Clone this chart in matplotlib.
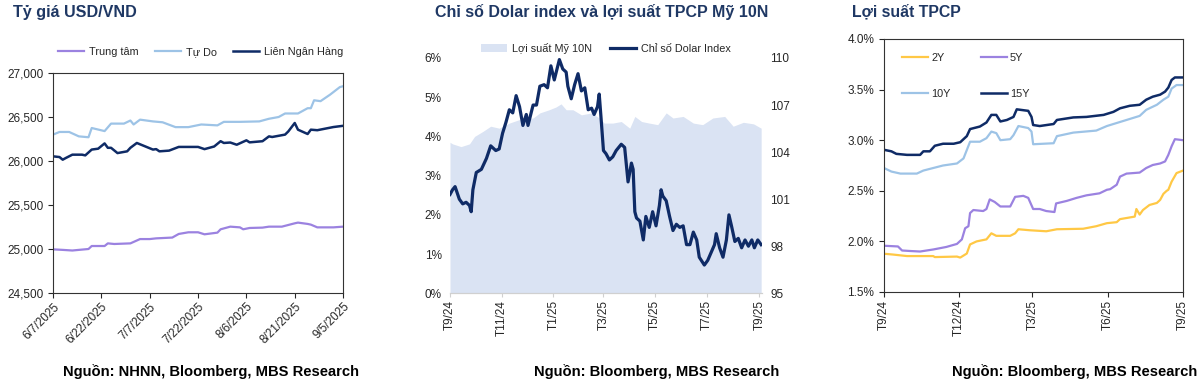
import matplotlib
matplotlib.use("Agg")
import matplotlib.pyplot as plt
from matplotlib.ticker import FuncFormatter
from matplotlib.patches import Patch
from matplotlib.lines import Line2D
import pandas as pd

plt.rcParams['font.family'] = ['Liberation Sans', 'DejaVu Sans']

# ---------------- Panel 1: USD/VND ----------------
p1_start = "2025-06-07"
p1_ticks = ["2025-06-07", "2025-06-22", "2025-07-07", "2025-07-22", "2025-08-06", "2025-08-21", "2025-09-05"]
tudo_days = [0, 2, 5, 8, 11, 12, 16, 18, 22, 24, 25, 27, 31, 34, 38, 42, 46, 51, 53, 58, 64, 67, 70, 72, 76, 79, 80, 81, 83, 86, 89, 90]
tudo_vals = [26300, 26330, 26330, 26280, 26270, 26375, 26340, 26425, 26425, 26460, 26415, 26470, 26450, 26440, 26385,
             26385, 26415, 26405, 26445, 26445, 26450, 26480, 26500, 26540, 26540, 26600, 26600, 26690, 26680, 26755,
             26840, 26850]
lnh_days = [0, 2, 3, 4, 6, 9, 10, 12, 14, 16, 17, 18, 20, 23, 24, 26, 28, 31, 32, 33, 36, 39, 45, 47, 50, 52, 53, 55,
            57, 60, 61, 65, 67, 68, 72, 73, 75, 76, 79, 80, 82, 87, 90]
lnh_vals = [26053, 26045, 26015, 26035, 26072, 26072, 26064, 26130, 26140, 26200, 26150, 26150, 26090, 26110, 26150,
            26205, 26175, 26130, 26135, 26110, 26118, 26160, 26160, 26135, 26165, 26225, 26205, 26210, 26185, 26235,
            26212, 26225, 26280, 26273, 26300, 26336, 26432, 26356, 26307, 26356, 26350, 26386, 26400]
tt_days = [0, 3, 6, 8, 11, 12, 16, 17, 19, 24, 27, 30, 32, 37, 39, 42, 45, 47, 51, 52, 55, 58, 59, 61, 65, 67, 71,
           75, 76, 79, 80, 82, 87, 90]
tt_vals = [24996, 24990, 24983, 24990, 25000, 25034, 25034, 25064, 25057, 25064, 25113, 25113, 25121, 25130, 25171,
           25190, 25190, 25167, 25186, 25224, 25254, 25246, 25224, 25239, 25243, 25254, 25254, 25292, 25300, 25285,
           25277, 25246, 25246, 25254]
p1_yticks = [24500, 25000, 25500, 26000, 26500, 27000]

# ---------------- Panel 2: DXY & US 10Y ----------------
p2_start = "2024-09-01"
p2_ticks = ["2024-09-01", "2024-11-01", "2025-01-01", "2025-03-01", "2025-05-01", "2025-07-01", "2025-09-01"]
p2_ticklabels = ["T9/24", "T11/24", "T1/25", "T3/25", "T5/25", "T7/25", "T9/25"]
us10_days = [0, 3, 13, 23, 29, 39, 48, 58, 70, 82, 98, 106, 117, 125, 131, 137, 145, 155, 167, 176, 182, 192, 202,
             212, 218, 226, 235, 245, 255, 263, 275, 287, 298, 310, 324, 334, 346, 358, 367]
us10_vals = [3.85, 3.81, 3.74, 3.81, 4.0, 4.13, 4.26, 4.21, 4.34, 4.43, 4.47, 4.6, 4.68, 4.75, 4.83, 4.68, 4.68, 4.55,
             4.6, 4.47, 4.34, 4.34, 4.38, 4.21, 4.51, 4.38, 4.34, 4.3, 4.6, 4.47, 4.51, 4.34, 4.3, 4.47, 4.51, 4.26,
             4.36, 4.32, 4.21]
dxy_days = [0, 3, 6, 11, 15, 19, 23, 25, 27, 31, 37, 43, 48, 54, 58, 62, 66, 70, 74, 78, 82, 86, 90, 92, 98, 102,
            106, 111, 115, 119, 123, 129, 133, 137, 139, 143, 147, 151, 155, 159, 163, 167, 170, 174, 176, 178, 181,
            184, 188, 192, 196, 202, 206, 210, 214, 216, 218, 220, 224, 228, 231, 235, 239, 243, 247, 249, 251, 255,
            259, 263, 267, 271, 275, 279, 283, 287, 291, 294, 300, 304, 308, 312, 314, 318, 322, 326, 329, 332, 336,
            340, 344, 348, 352, 356, 359, 363, 367]
dxy_vals = [101.3, 101.6, 101.8, 101.0, 100.7, 100.8, 100.6, 100.2, 101.6, 102.7, 102.9, 103.6, 104.4, 104.1, 104.2,
            105.2, 105.9, 106.7, 106.5, 107.6, 106.9, 105.7, 106.4, 105.7, 107.0, 107.0, 108.2, 108.3, 108.1, 109.5,
            108.6, 109.9, 109.3, 109.1, 108.2, 107.4, 108.3, 109.0, 107.9, 108.1, 106.7, 106.8, 106.4, 106.9, 107.7,
            106.3, 104.1, 103.9, 103.5, 103.7, 104.1, 104.5, 104.3, 102.1, 103.3, 102.9, 100.2, 99.8, 99.6, 98.4,
            99.9, 99.2, 100.2, 99.3, 100.6, 101.6, 101.2, 100.9, 99.9, 99.0, 99.4, 99.2, 99.3, 98.1, 98.1, 98.9, 98.4,
            97.3, 96.8, 97.1, 97.6, 98.1, 98.8, 97.9, 97.3, 98.4, 100.0, 99.3, 98.3, 98.5, 97.9, 98.4, 98.0, 98.4,
            97.9, 98.4, 98.1]
p2_left_ticks = [0, 1, 2, 3, 4, 5, 6]
p2_right_ticks = [95, 98, 101, 104, 107, 110]

# ---------------- Panel 3: VN gov bond yields ----------------
p3_start = "2024-09-01"
p3_ticks = ["2024-09-01", "2024-12-01", "2025-03-01", "2025-06-01", "2025-09-01"]
p3_ticklabels = ["T9/24", "T12/24", "T3/25", "T6/25", "T9/25"]
y15_days = [0, 9, 15, 28, 44, 48, 56, 62, 72, 85, 93, 101, 105, 117, 125, 131, 137, 142, 150, 158, 162, 176, 180, 182,
            190, 207, 211, 231, 247, 268, 280, 288, 300, 312, 320, 328, 337, 343, 347, 351, 355, 365]
y15_vals = [2.905, 2.89, 2.865, 2.855, 2.855, 2.89, 2.89, 2.945, 2.965, 2.965, 2.98, 3.04, 3.11, 3.135, 3.175, 3.25,
            3.25, 3.185, 3.2, 3.23, 3.305, 3.29, 3.23, 3.15, 3.14, 3.16, 3.2, 3.225, 3.23, 3.25, 3.28, 3.315, 3.34,
            3.35, 3.4, 3.43, 3.45, 3.48, 3.52, 3.595, 3.62, 3.62]
y10_days = [0, 9, 20, 40, 48, 60, 72, 89, 97, 105, 117, 125, 131, 137, 142, 154, 158, 164, 176, 180, 182, 207, 211,
            231, 259, 272, 288, 312, 320, 333, 341, 347, 351, 357, 365]
y10_vals = [2.725, 2.69, 2.67, 2.67, 2.7, 2.725, 2.75, 2.77, 2.82, 2.985, 2.985, 3.02, 3.085, 3.07, 3.0, 3.01, 3.05,
            3.14, 3.12, 3.085, 2.96, 2.97, 3.04, 3.075, 3.095, 3.14, 3.18, 3.24, 3.3, 3.35, 3.4, 3.43, 3.51, 3.545,
            3.545]
y5_days = [0, 17, 22, 32, 44, 60, 76, 89, 95, 99, 103, 105, 109, 121, 125, 129, 135, 142, 154, 160, 170, 176, 182,
           190, 198, 208, 210, 223, 235, 247, 263, 272, 276, 284, 288, 296, 312, 320, 328, 337, 343, 347, 351, 355, 365]
y5_vals = [1.957, 1.95, 1.91, 1.905, 1.9, 1.92, 1.945, 1.975, 2.02, 2.13, 2.15, 2.28, 2.31, 2.3, 2.32, 2.415, 2.39,
           2.345, 2.345, 2.44, 2.45, 2.43, 2.32, 2.32, 2.3, 2.29, 2.375, 2.4, 2.43, 2.455, 2.475, 2.51, 2.516, 2.56,
           2.64, 2.67, 2.68, 2.725, 2.755, 2.77, 2.79, 2.855, 2.94, 3.01, 3.0]
y2_days = [0, 11, 28, 60, 62, 89, 93, 101, 105, 113, 125, 131, 137, 154, 160, 164, 178, 198, 211, 243, 259, 272, 284,
           288, 306, 308, 312, 316, 324, 333, 337, 341, 345, 347, 351, 357, 365]
y2_vals = [1.878, 1.87, 1.855, 1.855, 1.845, 1.85, 1.84, 1.88, 1.97, 2.0, 2.02, 2.08, 2.055, 2.055, 2.08, 2.12, 2.11,
           2.1, 2.12, 2.125, 2.15, 2.18, 2.19, 2.22, 2.245, 2.32, 2.265, 2.31, 2.36, 2.38, 2.41, 2.47, 2.5, 2.51, 2.59,
           2.675, 2.7]
p3_yticks = [1.5, 2.0, 2.5, 3.0, 3.5, 4.0]

# ---------------- Styling ----------------
NAVY = "#0f2b66"
LIGHT = "#9dc3e6"
PURPLE = "#9b82e0"
YELLOW = "#ffc845"
FILL = "#dae3f3"
TITLE = "#1f3864"
TXT = "#262626"
LEG_FS = 7.8
TICK_FS = 8.5


def to_dates(start, days):
    return pd.Timestamp(start) + pd.to_timedelta(days, unit="D")


fig = plt.figure(figsize=(12, 3.9), dpi=100)
fig.patch.set_facecolor("white")

# ===== Panel 1 =====
ax1 = fig.add_axes([0.0442, 0.2487, 0.2417, 0.5641])
ax1.plot(to_dates(p1_start, tt_days), tt_vals, color=PURPLE, lw=1.6, label="Trung tâm")
ax1.plot(to_dates(p1_start, tudo_days), tudo_vals, color=LIGHT, lw=1.6, label="Tự Do")
ax1.plot(to_dates(p1_start, lnh_days), lnh_vals, color=NAVY, lw=1.8, label="Liên Ngân Hàng")
ax1.set_xlim(pd.Timestamp(p1_ticks[0]), pd.Timestamp(p1_ticks[-1]))
ax1.set_ylim(p1_yticks[0], p1_yticks[-1])
ax1.set_yticks(p1_yticks)
ax1.yaxis.set_major_formatter(FuncFormatter(lambda v, p: f"{int(v):,}"))
ax1.set_xticks([pd.Timestamp(t) for t in p1_ticks])
ax1.set_xticklabels([f"{pd.Timestamp(t).month}/{pd.Timestamp(t).day}/{pd.Timestamp(t).year}" for t in p1_ticks],
                    rotation=45, ha="right", rotation_mode="anchor")
for s in ax1.spines.values():
    s.set_color("#333333")
    s.set_linewidth(0.8)
ax1.tick_params(axis="both", labelsize=TICK_FS, colors=TXT, length=3.5, width=0.8, direction="out")
ax1.tick_params(axis="x", pad=2)
ax1.legend(loc="center", bbox_to_anchor=(0.51, 1 + 21 / 220), ncol=3, frameon=False, fontsize=LEG_FS,
           handlelength=2.4, columnspacing=1.5, handletextpad=0.45, labelcolor=TXT, borderaxespad=0)
fig.text(13 / 1200, 1 - 12 / 390, "Tỷ giá USD/VND", fontsize=11.6, fontweight="bold", color=TITLE,
         ha="left", va="center")
fig.text(211 / 1200, 1 - 372 / 390, "Nguồn: NHNN, Bloomberg, MBS Research", fontsize=10.6, fontweight="bold",
         color="black", ha="center", va="center")

# ===== Panel 2 =====
ax2 = fig.add_axes([0.375, 0.248, 0.26, 0.6033])
ax2.fill_between(to_dates(p2_start, us10_days), 0, us10_vals, color=FILL, lw=0, label="Lợi suất Mỹ 10N")
ax2.set_ylim(p2_left_ticks[0], p2_left_ticks[-1])
ax2.set_yticks(p2_left_ticks)
ax2.yaxis.set_major_formatter(FuncFormatter(lambda v, p: f"{int(v)}%"))
ax2r = ax2.twinx()
ax2r.plot(to_dates(p2_start, dxy_days), dxy_vals, color=NAVY, lw=2.3, label="Chỉ số Dolar Index")
ax2r.set_ylim(p2_right_ticks[0], p2_right_ticks[-1])
ax2r.set_yticks(p2_right_ticks)
ax2.set_xlim(pd.Timestamp(p2_start), pd.Timestamp(p2_start) + pd.Timedelta(days=368))
ax2.set_xticks([pd.Timestamp(t) for t in p2_ticks])
ax2.set_xticklabels(p2_ticklabels, rotation=90)
for a in (ax2, ax2r):
    for k, s in a.spines.items():
        s.set_visible(k == "bottom")
    a.spines["bottom"].set_color("#d0d0d0")
ax2.tick_params(axis="y", length=0, labelsize=TICK_FS, colors=TXT, pad=6)
ax2r.tick_params(axis="y", length=0, labelsize=TICK_FS, colors=TXT, pad=6)
ax2.tick_params(axis="x", length=3, color="#d0d0d0", labelsize=TICK_FS, labelcolor=TXT, pad=2)
h2 = [Patch(facecolor=FILL, edgecolor="none"), Line2D([0], [0], color=NAVY, lw=2.3)]
ax2.legend(h2, ["Lợi suất Mỹ 10N", "Chỉ số Dolar Index"], loc="center", bbox_to_anchor=(0.5, 1 + 10 / 236),
           ncol=2, frameon=False, fontsize=LEG_FS, handlelength=2.4, columnspacing=1.6, handletextpad=0.5,
           labelcolor=TXT, borderaxespad=0)
fig.text(602 / 1200, 1 - 12 / 390, "Chỉ số Dolar index và lợi suất TPCP Mỹ 10N", fontsize=11.5, fontweight="bold",
         color=TITLE, ha="center", va="center")
fig.text(657 / 1200, 1 - 372 / 390, "Nguồn: Bloomberg, MBS Research", fontsize=10.6, fontweight="bold",
         color="black", ha="center", va="center")

# ===== Panel 3 =====
ax3 = fig.add_axes([0.7367, 0.2513, 0.2492, 0.6487])
l2, = ax3.plot(to_dates(p3_start, y2_days), y2_vals, color=YELLOW, lw=1.6, label="2Y")
l5, = ax3.plot(to_dates(p3_start, y5_days), y5_vals, color=PURPLE, lw=1.6, label="5Y")
l10, = ax3.plot(to_dates(p3_start, y10_days), y10_vals, color=LIGHT, lw=1.6, label="10Y")
l15, = ax3.plot(to_dates(p3_start, y15_days), y15_vals, color=NAVY, lw=1.8, label="15Y")
ax3.set_xlim(pd.Timestamp(p3_ticks[0]), pd.Timestamp(p3_ticks[-1]))
ax3.set_ylim(p3_yticks[0], p3_yticks[-1])
ax3.set_yticks(p3_yticks)
ax3.yaxis.set_major_formatter(FuncFormatter(lambda v, p: f"{v:.1f}%"))
ax3.set_xticks([pd.Timestamp(t) for t in p3_ticks])
ax3.set_xticklabels(p3_ticklabels, rotation=90)
for s in ax3.spines.values():
    s.set_color("#333333")
    s.set_linewidth(0.8)
ax3.tick_params(axis="both", labelsize=TICK_FS, colors=TXT, length=3.5, width=0.8, direction="out")
ax3.tick_params(axis="x", pad=2)
ax3.legend([l2, l10, l5, l15], ["2Y", "10Y", "5Y", "15Y"], loc="upper left", bbox_to_anchor=(0.045, 0.963),
           ncol=2, frameon=False, fontsize=LEG_FS, handlelength=2.4, columnspacing=2.8, handletextpad=0.3,
           labelspacing=2.4, labelcolor=TXT, borderaxespad=0)
fig.text(852 / 1200, 1 - 12 / 390, "Lợi suất TPCP", fontsize=11.4, fontweight="bold", color=TITLE,
         ha="left", va="center")
fig.text(1075 / 1200, 1 - 372 / 390, "Nguồn: Bloomberg, MBS Research", fontsize=10.6, fontweight="bold",
         color="black", ha="center", va="center")

fig.savefig("out.png", dpi=100, facecolor="white")
